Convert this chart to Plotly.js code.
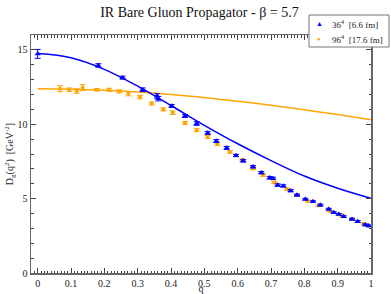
<!DOCTYPE html>
<html>
<head>
<meta charset="utf-8">
<script src="https://cdn.plot.ly/plotly-3.0.1.min.js"></script>
<style>html,body{margin:0;padding:0;background:#fff;}#chart{width:391px;height:294px;}</style>
</head>
<body>
<div id="chart"></div>
<script>
// 36^4 [6.6 fm] lattice data
const q36 = [0, 0.182, 0.255, 0.315, 0.358, 0.362, 0.402, 0.442, 0.477, 0.51, 0.536, 0.567, 0.595, 0.617, 0.646, 0.671, 0.696, 0.706, 0.72, 0.737, 0.759, 0.778, 0.803, 0.826, 0.848, 0.873, 0.888, 0.903, 0.918, 0.943, 0.96, 0.983, 0.993];
const d36 = [14.73, 13.95, 13.13, 12.32, 11.9, 11.72, 11.23, 10.56, 10.05, 9.42, 8.87, 8.41, 7.9, 7.54, 7.14, 6.74, 6.40, 6.36, 5.91, 5.85, 5.53, 5.24, 4.96, 4.8, 4.57, 4.29, 4.06, 3.95, 3.79, 3.62, 3.46, 3.24, 3.17];
const e36 = [0.3, 0.12, 0.1, 0.12, 0.15, 0.15, 0.1, 0.1, 0.12, 0.1, 0.1, 0.1, 0.08, 0.08, 0.08, 0.08, 0.08, 0.08, 0.08, 0.08, 0.08, 0.06, 0.06, 0.06, 0.06, 0.06, 0.06, 0.06, 0.06, 0.06, 0.06, 0.06, 0.06];

// 96^4 [17.6 fm] lattice data
const q96 = [0.067, 0.095, 0.117, 0.135, 0.177, 0.214, 0.245, 0.272, 0.307, 0.342, 0.377, 0.405, 0.442, 0.477, 0.51, 0.539, 0.577, 0.613, 0.646, 0.676, 0.71, 0.748, 0.778, 0.81, 0.843, 0.876, 0.91, 0.943, 0.978];
const d96 = [12.39, 12.32, 12.23, 12.46, 12.32, 12.32, 12.21, 12.06, 11.83, 11.39, 11.0, 10.78, 10.09, 9.6, 9.15, 8.68, 8.14, 7.59, 7.03, 6.58, 6.09, 5.63, 5.24, 4.84, 4.53, 4.17, 3.9, 3.62, 3.3];
const e96 = [0.2, 0.12, 0.15, 0.2, 0.08, 0.1, 0.1, 0.15, 0.12, 0.1, 0.1, 0.12, 0.1, 0.1, 0.1, 0.1, 0.08, 0.08, 0.08, 0.08, 0.08, 0.08, 0.06, 0.06, 0.06, 0.06, 0.06, 0.06, 0.06];

// fit curves
const qFit = [0, 0.1, 0.2, 0.3, 0.4, 0.5, 0.6, 0.7, 0.8, 0.9, 1.0];
const fit36 = [14.75, 14.47, 13.69, 12.56, 11.26, 9.93, 8.69, 7.56, 6.52, 5.7, 5.02];
const fit96 = [12.39, 12.36, 12.29, 12.17, 12.0, 11.79, 11.55, 11.27, 10.97, 10.65, 10.31];

// legend labels
const legendLabels = ['36<sup>4</sup>  [6.6 fm]', '96<sup>4</sup>  [17.6 fm]'];

const blue = '#0000ff', orange = '#ffa500';
const serif = 'Liberation Serif, Times New Roman, serif';

const traces = [
  {x: qFit, y: fit96, mode: 'lines', line: {color: orange, width: 1.5, shape: 'spline'}, showlegend: false, hoverinfo: 'skip'},
  {x: qFit, y: fit36, mode: 'lines', line: {color: blue, width: 1.5, shape: 'spline'}, showlegend: false, hoverinfo: 'skip'},
  {x: q96, y: d96, mode: 'markers', name: legendLabels[1], showlegend: false,
   marker: {symbol: 'circle', size: 4, color: orange},
   error_y: {type: 'data', array: e96, visible: true, color: orange, thickness: 1, width: 3}},
  {x: q36, y: d36, mode: 'markers', name: legendLabels[0], showlegend: false,
   marker: {symbol: 'triangle-up', size: 5.5, color: blue},
   error_y: {type: 'data', array: e36, visible: true, color: blue, thickness: 1, width: 3}}
];

const axisCommon = {
  showgrid: false, zeroline: false, showline: true, linecolor: '#666', linewidth: 1.5,
  mirror: 'allticks', ticks: 'inside', ticklen: 5, tickwidth: 1, tickcolor: '#444',
  tickfont: {family: serif, size: 10, color: '#222'}, automargin: false
};

// legend box geometry in paper fractions (plot area 31..371 x 35..273 px)
const W = 340, H = 238, L = 31, B = 273;
const px = v => (v - L) / W;
const py = v => (B - v) / H;

const layout = {
  width: 391, height: 294,
  margin: {l: 31, r: 20, t: 35, b: 21, autoexpand: false},
  paper_bgcolor: '#fff', plot_bgcolor: '#fff',
  title: {text: 'IR Bare Gluon Propagator - β = 5.7', font: {family: serif, size: 14, color: '#111'},
          x: 0.51, xanchor: 'center', y: 0.975, yanchor: 'top', xref: 'container', yref: 'container'},
  xaxis: Object.assign({}, axisCommon, {
    range: [-0.02, 1], dtick: 0.1, tick0: 0,
    minor: {dtick: 0.01, ticklen: 2.5, tickcolor: '#444', ticks: 'inside'},
    title: {text: 'q', font: {family: serif, size: 10, color: '#222'}, standoff: 0}
  }),
  yaxis: Object.assign({}, axisCommon, {
    range: [0, 16], dtick: 5, tick0: 0,
    minor: {dtick: 1, ticklen: 2.5, tickcolor: '#444', ticks: 'inside'},
    title: {text: 'D<sub>g</sub>(q<sup>2</sup>)  [GeV<sup>-2</sup>]', font: {family: serif, size: 10, color: '#222'}, standoff: 2}
  }),
  showlegend: false,
  shapes: [
    {type: 'rect', xref: 'paper', yref: 'paper', x0: px(309), x1: px(389), y0: py(47), y1: py(15),
     fillcolor: '#fff', line: {color: '#777', width: 1}, layer: 'above'}
  ],
  annotations: [
    {xref: 'paper', yref: 'paper', x: px(319), y: py(24), text: '▲', showarrow: false,
     font: {size: 7, color: blue}, xanchor: 'center', yanchor: 'middle'},
    {xref: 'paper', yref: 'paper', x: px(319), y: py(39), text: '●', showarrow: false,
     font: {size: 6, color: orange}, xanchor: 'center', yanchor: 'middle'},
    {xref: 'paper', yref: 'paper', x: px(330), y: py(24), text: legendLabels[0], showarrow: false,
     font: {family: serif, size: 9, color: '#222'}, xanchor: 'left', yanchor: 'middle'},
    {xref: 'paper', yref: 'paper', x: px(330), y: py(39), text: legendLabels[1], showarrow: false,
     font: {family: serif, size: 9, color: '#222'}, xanchor: 'left', yanchor: 'middle'}
  ]
};

Plotly.newPlot('chart', traces, layout, {displayModeBar: false, staticPlot: true});
</script>
</body>
</html>
